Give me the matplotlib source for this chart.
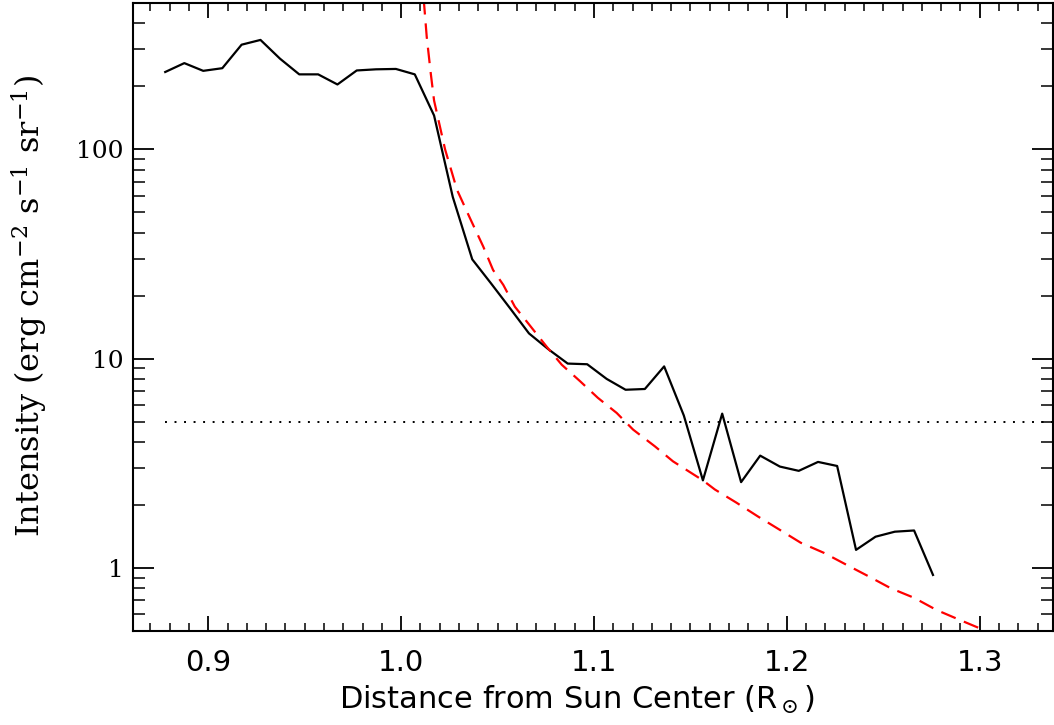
import numpy as np
import matplotlib
matplotlib.use("Agg")
import matplotlib.pyplot as plt
from matplotlib.ticker import FixedLocator, NullFormatter, LogLocator

plt.rcParams["mathtext.fontset"] = "dejavuserif"

# observed intensity profile
r_obs = [0.8777, 0.8876, 0.8974, 0.9073, 0.9173, 0.9271, 0.9372, 0.9472, 0.9570, 0.9670,
         0.9770, 0.9870, 0.9973, 1.0071, 1.0171, 1.0268, 1.0369, 1.0466, 1.0565, 1.0663,
         1.0763, 1.0864, 1.0965, 1.1066, 1.1164, 1.1264, 1.1364, 1.1466, 1.1565, 1.1665,
         1.1763, 1.1862, 1.1964, 1.2062, 1.2162, 1.2261, 1.2359, 1.2460, 1.2560, 1.2660,
         1.2758]
i_obs = [234, 258, 237, 244, 316, 333, 271, 228, 228, 204,
         238, 241, 242, 228, 145, 59.2, 29.8, 22.9, 17.4, 13.2,
         11.1, 9.47, 9.4, 8.0, 7.1, 7.16, 9.18, 5.35, 2.62, 5.46,
         2.57, 3.44, 3.05, 2.91, 3.21, 3.07, 1.22, 1.41, 1.49, 1.51,
         0.926]

# model fit (red dashed)
r_fit = [1.0100, 1.0119, 1.0133, 1.0154, 1.0171, 1.0228, 1.0290, 1.0358, 1.0426, 1.0477,
         1.0530, 1.0590, 1.0660, 1.0755, 1.0833, 1.0928, 1.1020, 1.1118, 1.1203, 1.1316,
         1.1410, 1.1565, 1.1627, 1.1739, 1.1851, 1.1964, 1.2072, 1.2193, 1.2314, 1.2426,
         1.2539, 1.2660, 1.2776, 1.2896, 1.3000, 1.3100]
i_fit = [820, 498, 344, 230, 171, 100, 64, 46.7, 34.3, 26.5,
         22.5, 17.7, 14.7, 11.4, 9.35, 7.8, 6.5, 5.5, 4.58, 3.81,
         3.23, 2.62, 2.37, 2.05, 1.76, 1.52, 1.32, 1.18, 1.03, 0.91,
         0.80, 0.72, 0.63, 0.565, 0.515, 0.47]

threshold = 5.0

x_ticks = [0.9, 1.0, 1.1, 1.2, 1.3]
x_ticklabels = ["0.9", "1.0", "1.1", "1.2", "1.3"]
y_ticks = [1, 10, 100]
y_ticklabels = ["1", "10", "100"]

fig = plt.figure(figsize=(10.54, 7.25), dpi=100)
ax = fig.add_axes([0.1262, 0.1297, 0.8728, 0.8662])

ax.plot(r_obs, i_obs, color="black", lw=1.6)
ax.plot(r_fit, i_fit, color="red", lw=1.6, dashes=(7, 4))
ax.hlines(threshold, r_obs[0], 1.338, color="black", lw=1.4, linestyles=[(0, (1, 3.9))])

ax.set_yscale("log")
ax.set_xlim(0.861, 1.338)
ax.set_ylim(0.5, 500)

ax.xaxis.set_major_locator(FixedLocator(x_ticks))
ax.xaxis.set_minor_locator(FixedLocator(np.arange(0.86, 1.345, 0.01)))
ax.set_xticklabels(x_ticklabels)
ax.yaxis.set_major_locator(FixedLocator(y_ticks))
ax.yaxis.set_minor_locator(LogLocator(base=10, subs=np.arange(2, 10)))
ax.yaxis.set_minor_formatter(NullFormatter())
ax.set_yticklabels(y_ticklabels)

ax.tick_params(axis="both", which="both", direction="in", top=True, right=True, color="black")
ax.tick_params(axis="x", which="major", length=11, width=1.3, pad=13)
ax.tick_params(axis="x", which="minor", length=6, width=1.1)
ax.tick_params(axis="y", which="major", length=15, width=1.3, pad=7)
ax.tick_params(axis="y", which="minor", length=8.5, width=1.1)

for lab in ax.get_xticklabels():
    lab.set_fontfamily("DejaVu Sans")
    lab.set_fontsize(21)
for lab in ax.get_yticklabels():
    lab.set_fontfamily("DejaVu Serif")
    lab.set_fontsize(18)

for s in ax.spines.values():
    s.set_linewidth(1.5)

ax.set_xlabel(r"Distance from Sun Center (R$_\odot$)", fontsize=22, family="DejaVu Sans")
ax.set_ylabel(r"Intensity (erg cm$^{-2}$ s$^{-1}$ sr$^{-1}$)", fontsize=23, family="DejaVu Serif")
ax.xaxis.set_label_coords(0.483, -0.084)
ax.yaxis.set_label_coords(-0.090, 0.517)

fig.savefig("out.png", dpi=100)
